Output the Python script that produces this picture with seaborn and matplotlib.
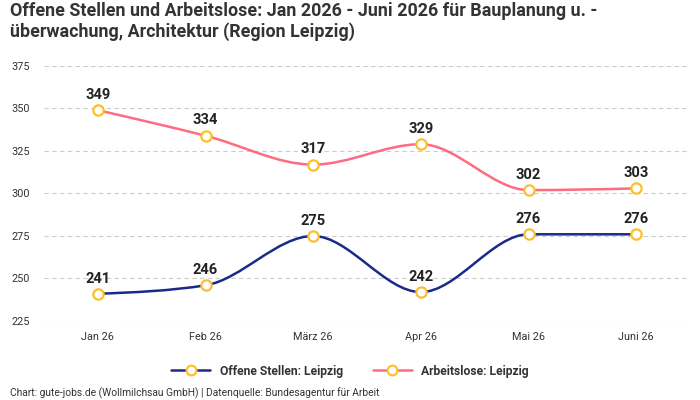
import numpy as np
import matplotlib
matplotlib.use("Agg")
import matplotlib.pyplot as plt
import seaborn as sns
from matplotlib.path import Path
from matplotlib.patches import PathPatch
from matplotlib.lines import Line2D

months = ["Jan 26", "Feb 26", "März 26", "Apr 26", "Mai 26", "Juni 26"]
offene_stellen = [241, 246, 275, 242, 276, 276]
arbeitslose = [349, 334, 317, 329, 302, 303]
y_ticks = [225, 250, 275, 300, 325, 350, 375]

BLUE = "#1b2a8a"
PINK = "#ff6b81"
YELLOW = "#fbc02d"

sns.set_theme(style="white")
plt.rcParams["font.family"] = ["Roboto", "DejaVu Sans"]


def monotone_path(x, y):
    # cubic bezier path like d3.curveMonotoneX
    x = np.asarray(x, float)
    y = np.asarray(y, float)
    n = len(x)
    h = np.diff(x)
    s = np.diff(y) / h
    t = np.zeros(n)
    for i in range(1, n - 1):
        p = (s[i - 1] * h[i] + s[i] * h[i - 1]) / (h[i - 1] + h[i])
        t[i] = (np.sign(s[i - 1]) + np.sign(s[i])) * min(abs(s[i - 1]), abs(s[i]), 0.5 * abs(p))
    t[0] = (3 * s[0] - t[1]) / 2
    t[-1] = (3 * s[-1] - t[-2]) / 2
    verts = [(x[0], y[0])]
    codes = [Path.MOVETO]
    for i in range(n - 1):
        dx = h[i] / 3
        verts += [(x[i] + dx, y[i] + dx * t[i]),
                  (x[i + 1] - dx, y[i + 1] - dx * t[i + 1]),
                  (x[i + 1], y[i + 1])]
        codes += [Path.CURVE4] * 3
    return Path(verts, codes)


fig = plt.figure(figsize=(7, 4), dpi=100)
ax = fig.add_axes([44 / 700, 1 - 321 / 400, 646 / 700, 255 / 400])

xs = np.arange(len(months))
for vals, col in [(offene_stellen, BLUE), (arbeitslose, PINK)]:
    ax.add_patch(PathPatch(monotone_path(xs, vals), fill=False, edgecolor=col,
                           linewidth=1.8, zorder=3, capstyle="round"))
    sns.scatterplot(x=xs, y=vals, ax=ax, s=55, color="white", edgecolor=YELLOW,
                    linewidth=1.6, zorder=4, legend=False)
    for xi, v in zip(xs, vals):
        ax.annotate(str(v), (xi, v), xytext=(0, 11), textcoords="offset points",
                    ha="center", va="center", fontsize=10.5, fontweight="bold",
                    color="#222222", zorder=5)

ax.set_xlim(-0.5, len(months) - 0.5)
ax.set_ylim(225, 375)
ax.set_xticks(xs)
ax.set_xticklabels(months, fontsize=7.8, color="#333333")
ax.set_yticks(y_ticks)
ax.set_yticklabels([str(v) for v in y_ticks], fontsize=7.8, color="#333333")
ax.tick_params(axis="y", pad=10, length=0)
ax.tick_params(axis="x", pad=8, length=0)
ax.grid(axis="y", color="#cccccc", linestyle=(0, (4, 3)), linewidth=0.8)
ax.grid(axis="x", visible=False)
sns.despine(ax=ax, left=True, bottom=True)
ax.set_xlabel("")
ax.set_ylabel("")

handles = [
    Line2D([0], [0], color=BLUE, lw=1.8, marker="o", markersize=7,
           markerfacecolor="white", markeredgecolor=YELLOW, markeredgewidth=1.6),
    Line2D([0], [0], color=PINK, lw=1.8, marker="o", markersize=7,
           markerfacecolor="white", markeredgecolor=YELLOW, markeredgewidth=1.6),
]
fig.legend(handles, ["Offene Stellen: Leipzig", "Arbeitslose: Leipzig"],
           loc="center", bbox_to_anchor=(350 / 700, 1 - 371 / 400), ncol=2,
           frameon=False, handlelength=3.2, columnspacing=2.5,
           prop={"size": 8.7, "weight": "bold"}, labelcolor="#333333")

fig.text(10 / 700, 1 - 2 / 400,
         "Offene Stellen und Arbeitslose: Jan 2026 - Juni 2026 für Bauplanung u. -\n"
         "überwachung, Architektur (Region Leipzig)",
         ha="left", va="top", fontsize=12.9, fontweight="bold", color="#333333",
         linespacing=1.15)
fig.text(10 / 700, 1 - 393 / 400,
         "Chart: gute-jobs.de (Wollmilchsau GmbH) | Datenquelle: Bundesagentur für Arbeit",
         ha="left", va="center", fontsize=7.4, color="#333333")

fig.savefig("out.png", dpi=100)
